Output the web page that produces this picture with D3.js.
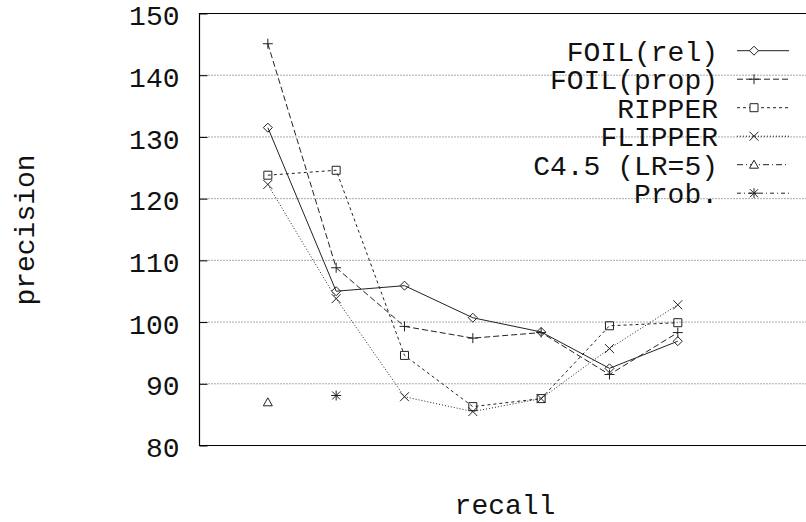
<!DOCTYPE html>
<html>
<head>
<meta charset="utf-8">
<script src="https://cdn.jsdelivr.net/npm/d3@7"></script>
<style>
	body { margin: 0; background: #fff; }
	text { font-family: "Liberation Mono", "DejaVu Sans Mono", monospace; font-weight: normal; }
</style>
</head>
<body>
<script>
// values
var recall = [1, 2, 3, 4, 5, 6, 7];
var foilRel = [131.5, 105.0, 105.9, 100.7, 98.4, 92.5, 96.9];
var foilProp = [145.1, 108.8, 99.3, 97.4, 98.3, 91.5, 98.3];
var ripper = [123.8, 124.6, 94.6, 86.3, 87.6, 99.4, 99.9];
var flipper = [122.3, 103.8, 87.9, 85.5, 87.6, 95.7, 102.8];
var c45Recall = [1];
var c45 = [87.0];
var probRecall = [2];
var prob = [88.1];
var yTicks = [80, 90, 100, 110, 120, 130, 140, 150];
var gridTicks = [90, 100, 110, 120, 130, 140];

var series = [
	{name: "FOIL(rel)", xs: recall, ys: foilRel, dash: null, mark: "diamond"},
	{name: "FOIL(prop)", xs: recall, ys: foilProp, dash: "6,3", mark: "plus"},
	{name: "RIPPER", xs: recall, ys: ripper, dash: "3,3", mark: "square"},
	{name: "FLIPPER", xs: recall, ys: flipper, dash: "1,2", mark: "cross"},
	{name: "C4.5 (LR=5)", xs: c45Recall, ys: c45, dash: "6,3,1,3", mark: "triangle"},
	{name: "Prob.", xs: probRecall, ys: prob, dash: "4,3,1,3", mark: "star"}
];

function markPath(type, cx, cy){
	var p = d3.path();
	if(type == "diamond"){
		p.moveTo(cx, cy - 4.5); p.lineTo(cx + 4.5, cy); p.lineTo(cx, cy + 4.5); p.lineTo(cx - 4.5, cy); p.closePath();
	} else if(type == "plus"){
		p.moveTo(cx - 5, cy); p.lineTo(cx + 5, cy); p.moveTo(cx, cy - 5); p.lineTo(cx, cy + 5);
	} else if(type == "square"){
		p.rect(cx - 4, cy - 4, 8, 8);
	} else if(type == "cross"){
		p.moveTo(cx - 4.5, cy - 4.5); p.lineTo(cx + 4.5, cy + 4.5); p.moveTo(cx + 4.5, cy - 4.5); p.lineTo(cx - 4.5, cy + 4.5);
	} else if(type == "triangle"){
		p.moveTo(cx, cy - 4.5); p.lineTo(cx + 4.5, cy + 3.5); p.lineTo(cx - 4.5, cy + 3.5); p.closePath();
	} else if(type == "star"){
		p.moveTo(cx - 5, cy); p.lineTo(cx + 5, cy); p.moveTo(cx, cy - 5); p.lineTo(cx, cy + 5);
		p.moveTo(cx - 4, cy - 4); p.lineTo(cx + 4, cy + 4); p.moveTo(cx + 4, cy - 4); p.lineTo(cx - 4, cy + 4);
	}
	return p.toString();
}

function main(){

	var w = 806;
	var h = 522;
	var padLeft = 199.5, padTop = 13.5, plotBottom = 445.5;

	var svg = d3.select("body")
				.append("svg")
				.attr("width", w)
				.attr("height", h);

	var xScale = d3.scaleLinear()
					.domain([0, (w - padLeft) / 68.33])
					.range([padLeft, w]);

	var yScale = d3.scaleLinear()
					.domain([80, 150])
					.range([plotBottom, padTop]);

	// grid
	svg.selectAll(".grid")
		.data(gridTicks)
		.enter()
		.append("line")
		.attr("class", "grid")
		.attr("x1", padLeft)
		.attr("x2", w)
		.attr("y1", function(d){return yScale(d);})
		.attr("y2", function(d){return yScale(d);})
		.attr("stroke", "#555")
		.attr("stroke-width", 1)
		.attr("stroke-dasharray", "1,2");

	// frame (right side is cut off)
	svg.append("path")
		.attr("d", "M" + w + "," + padTop + "H" + padLeft + "V" + plotBottom + "H" + w)
		.attr("fill", "none")
		.attr("stroke", "#000")
		.attr("stroke-width", 1.2);

	var yAxis = d3.axisLeft(yScale)
					.tickValues(yTicks)
					.tickSizeInner(-8)
					.tickSizeOuter(0)
					.tickPadding(20)
					.tickFormat(d3.format("d"));

	var ya = svg.append("g")
		.attr("transform", "translate(" + padLeft + ",0)")
		.call(yAxis);
	ya.select(".domain").remove();
	ya.attr("font-family", null).attr("font-size", null);
	ya.selectAll("text")
		.attr("font-size", 28)
		.attr("dy", "0.4em")
		.attr("fill", "#111");

	var line = d3.line()
		.x(function(d){return xScale(d[0]);})
		.y(function(d){return yScale(d[1]);});

	series.forEach(function(s){
		var pts = s.xs.map(function(x, i){return [x, s.ys[i]];});
		if(pts.length > 1){
			svg.append("path")
				.attr("d", line(pts))
				.attr("fill", "none")
				.attr("stroke", "#222")
				.attr("stroke-width", 1)
				.attr("stroke-dasharray", s.dash);
		}
		svg.selectAll(null)
			.data(pts)
			.enter()
			.append("path")
			.attr("d", function(d){return markPath(s.mark, xScale(d[0]), yScale(d[1]));})
			.attr("fill", "none")
			.attr("stroke", "#222")
			.attr("stroke-width", 1);
	});

	// legend
	var legend = svg.append("g");
	series.forEach(function(s, i){
		var ly = 50.7 + i * 28.5;
		legend.append("line")
			.attr("x1", 737)
			.attr("x2", 789)
			.attr("y1", ly)
			.attr("y2", ly)
			.attr("stroke", "#222")
			.attr("stroke-width", 1)
			.attr("stroke-dasharray", s.dash);
		legend.append("path")
			.attr("d", markPath(s.mark, 754, ly))
			.attr("fill", "#fff")
			.attr("stroke", "#222");
		legend.append("text")
			.attr("x", 718)
			.attr("y", ly)
			.attr("dy", "0.35em")
			.attr("text-anchor", "end")
			.attr("font-size", 28)
			.attr("fill", "#111")
			.text(s.name);
	});

	svg.append("text")
		.attr("x", 505)
		.attr("y", 514)
		.attr("text-anchor", "middle")
		.attr("font-size", 28)
		.attr("fill", "#111")
		.text("recall");

	svg.append("text")
		.attr("transform", "translate(34,230) rotate(-90)")
		.attr("text-anchor", "middle")
		.attr("font-size", 28)
		.attr("fill", "#111")
		.text("precision");
}

main();
</script>
</body>
</html>
